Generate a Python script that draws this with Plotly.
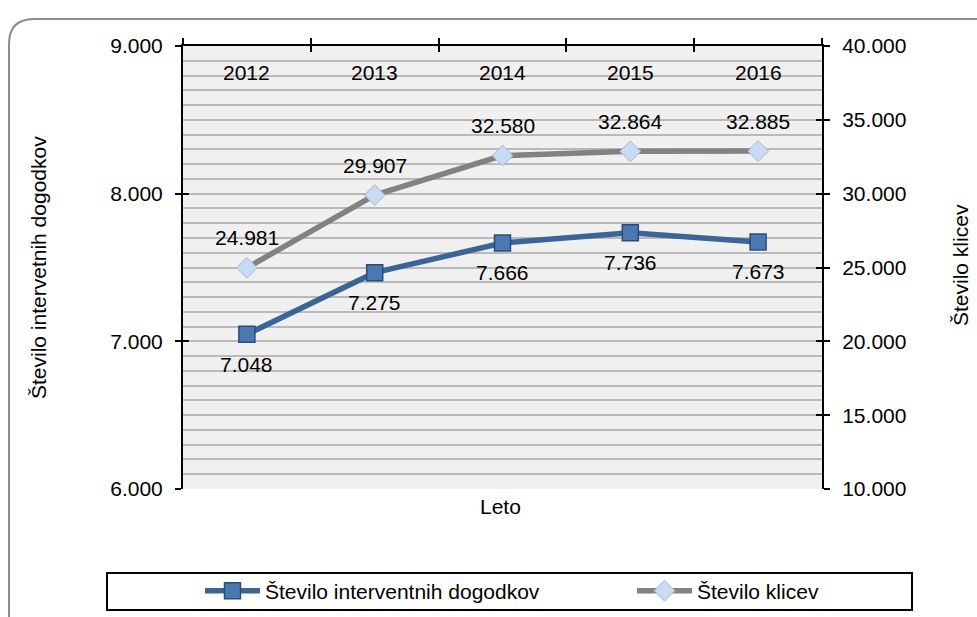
import plotly.graph_objects as go

# ---- data ----
years = ["2012", "2013", "2014", "2015", "2016"]
interventni = [7048, 7465, 7666, 7736, 7673]
interventni_labels = ["7.048", "7.275", "7.666", "7.736", "7.673"]
klici = [24981, 29907, 32580, 32864, 32885]
klici_labels = ["24.981", "29.907", "32.580", "32.864", "32.885"]

name_int = "Število interventnih dogodkov"
name_kl = "Število klicev"
title_left = "Število intervetnih dogodkov"
title_right = "Število klicev"
title_x = "Leto"

# ---- geometry helpers (pixel -> paper) ----
W, H = 977, 617
L, R, T, B = 183, 822, 46, 489


def px(x):
    return (x - L) / (R - L)


def py(y):
    return (B - y) / (B - T)


BLUE = "#3b6596"
GRAY = "#828282"
FONT = "Liberation Sans, Arial, sans-serif"
FS = 21
BLACK = "black"

fig = go.Figure()
fig.add_trace(go.Scatter(
    x=years, y=interventni, name=name_int, mode="lines+markers",
    line=dict(color=BLUE, width=5.5),
    marker=dict(symbol="square", size=16, color="#4a79b2",
                line=dict(color="#2c4d78", width=1.5)),
    legendwidth=362,
    xaxis="x", yaxis="y"))
fig.add_trace(go.Scatter(
    x=years, y=klici, name=name_kl, mode="lines+markers",
    line=dict(color=GRAY, width=5.5),
    marker=dict(symbol="diamond", size=16, color="#c9dbf0",
                line=dict(color="#9db8d8", width=1)),
    xaxis="x", yaxis="y2"))
# invisible helpers so the inside-tick axes get drawn
fig.add_trace(go.Scatter(x=years, y=interventni, xaxis="x2", yaxis="y3",
                         mode="lines", line=dict(width=0), opacity=0,
                         showlegend=False, hoverinfo="skip"))
fig.add_trace(go.Scatter(x=years, y=klici, xaxis="x", yaxis="y4",
                         mode="lines", line=dict(width=0), opacity=0,
                         showlegend=False, hoverinfo="skip"))

lab_font = dict(size=FS, color=BLACK, family=FONT)
annotations = []
# category labels sit just under the top axis line, inside the plot
for i, yr in enumerate(years):
    annotations.append(dict(x=i, y=py(72), xref="x", yref="paper", text=yr,
                            showarrow=False, xanchor="center",
                            yanchor="middle", font=lab_font))
for i, (yv, t) in enumerate(zip(klici, klici_labels)):
    annotations.append(dict(x=i, y=yv, xref="x", yref="y2", text=t,
                            showarrow=False, yshift=30, font=lab_font))
for i, (yv, t) in enumerate(zip(interventni, interventni_labels)):
    annotations.append(dict(x=i, y=yv, xref="x", yref="y", text=t,
                            showarrow=False, yshift=-30, font=lab_font))
annotations.append(dict(x=px(500), y=py(506), xref="paper", yref="paper",
                        text=title_x, showarrow=False,
                        xanchor="center", yanchor="middle", font=lab_font))
annotations.append(dict(x=px(38), y=py(268), xref="paper", yref="paper",
                        text=title_left, showarrow=False, textangle=-90,
                        xanchor="center", yanchor="middle", font=lab_font))
annotations.append(dict(x=px(960), y=py(265), xref="paper", yref="paper",
                        text=title_right, showarrow=False, textangle=-90,
                        xanchor="center", yanchor="middle", font=lab_font))

r = 25
frame_path = (f"M {px(9)},{py(700)} L {px(9)},{py(19 + r)} "
              f"Q {px(9)},{py(19)} {px(9 + r)},{py(19)} L {px(1100)},{py(19)}")
shapes = [
    dict(type="path", path=frame_path, xref="paper", yref="paper",
         line=dict(color="#8c8c8c", width=2), layer="below"),
    dict(type="rect", xref="paper", yref="paper",
         x0=px(107), x1=px(912), y0=py(573), y1=py(610),
         line=dict(color=BLACK, width=2), fillcolor="white", layer="below"),
]

tick_common = dict(tickcolor=BLACK, tickwidth=2, ticklen=6)
grid_col = "#b9b9b9"
xr = [-0.5, len(years) - 0.5]

fig.update_layout(
    width=W, height=H,
    margin=dict(l=L, r=W - R, t=T, b=H - B, pad=0, autoexpand=False),
    paper_bgcolor="white", plot_bgcolor="#f0f0f0",
    separators=",.",
    font=dict(family=FONT, size=FS, color=BLACK),
    showlegend=True,
    legend=dict(orientation="h", x=px(200), xanchor="left",
                y=py(591), yanchor="middle", bgcolor="rgba(0,0,0,0)",
                borderwidth=0, font=lab_font, itemwidth=55),
    xaxis=dict(type="category", side="top", anchor="y", range=xr,
               showline=True, linecolor=BLACK, linewidth=2,
               ticks="outside", tickson="boundaries", showticklabels=False,
               showgrid=False, zeroline=False,
               automargin=False, **tick_common),
    xaxis2=dict(type="category", overlaying="x", side="top", range=xr,
                anchor="y", ticks="inside", tickson="boundaries",
                showticklabels=False, showgrid=False, showline=False,
                zeroline=False, automargin=False, **tick_common),
    yaxis=dict(range=[6000, 9000], dtick=1000, tickformat=",",
               autorange=False,
               showline=True, linecolor=BLACK, linewidth=2,
               ticks="outside", showgrid=True, gridcolor=grid_col, gridwidth=2,
               minor=dict(dtick=100, showgrid=True, gridcolor=grid_col,
                          gridwidth=2, ticks=""),
               zeroline=False, ticklabelstandoff=8, automargin=False,
               tickfont=lab_font, **tick_common),
    yaxis2=dict(range=[10000, 40000], dtick=5000, tickformat=",",
                autorange=False,
                overlaying="y", side="right", anchor="x",
                showline=True, linecolor=BLACK, linewidth=2,
                ticks="outside", showgrid=False, zeroline=False,
                ticklabelstandoff=8, automargin=False,
                tickfont=lab_font, **tick_common),
    yaxis3=dict(range=[6000, 9000], autorange=False, dtick=1000,
                overlaying="y", side="left", anchor="x",
                ticks="inside", showticklabels=False, showgrid=False,
                showline=False, zeroline=False, automargin=False,
                **tick_common),
    yaxis4=dict(range=[10000, 40000], autorange=False, dtick=5000,
                overlaying="y", side="right", anchor="x",
                ticks="inside", showticklabels=False, showgrid=False,
                showline=False, zeroline=False, automargin=False,
                **tick_common),
    annotations=annotations,
    shapes=shapes,
)

fig.write_html(
    "out.html",
    config={"displayModeBar": False},
    post_script="document.body.style.margin='0';document.body.style.padding='0';",
)
